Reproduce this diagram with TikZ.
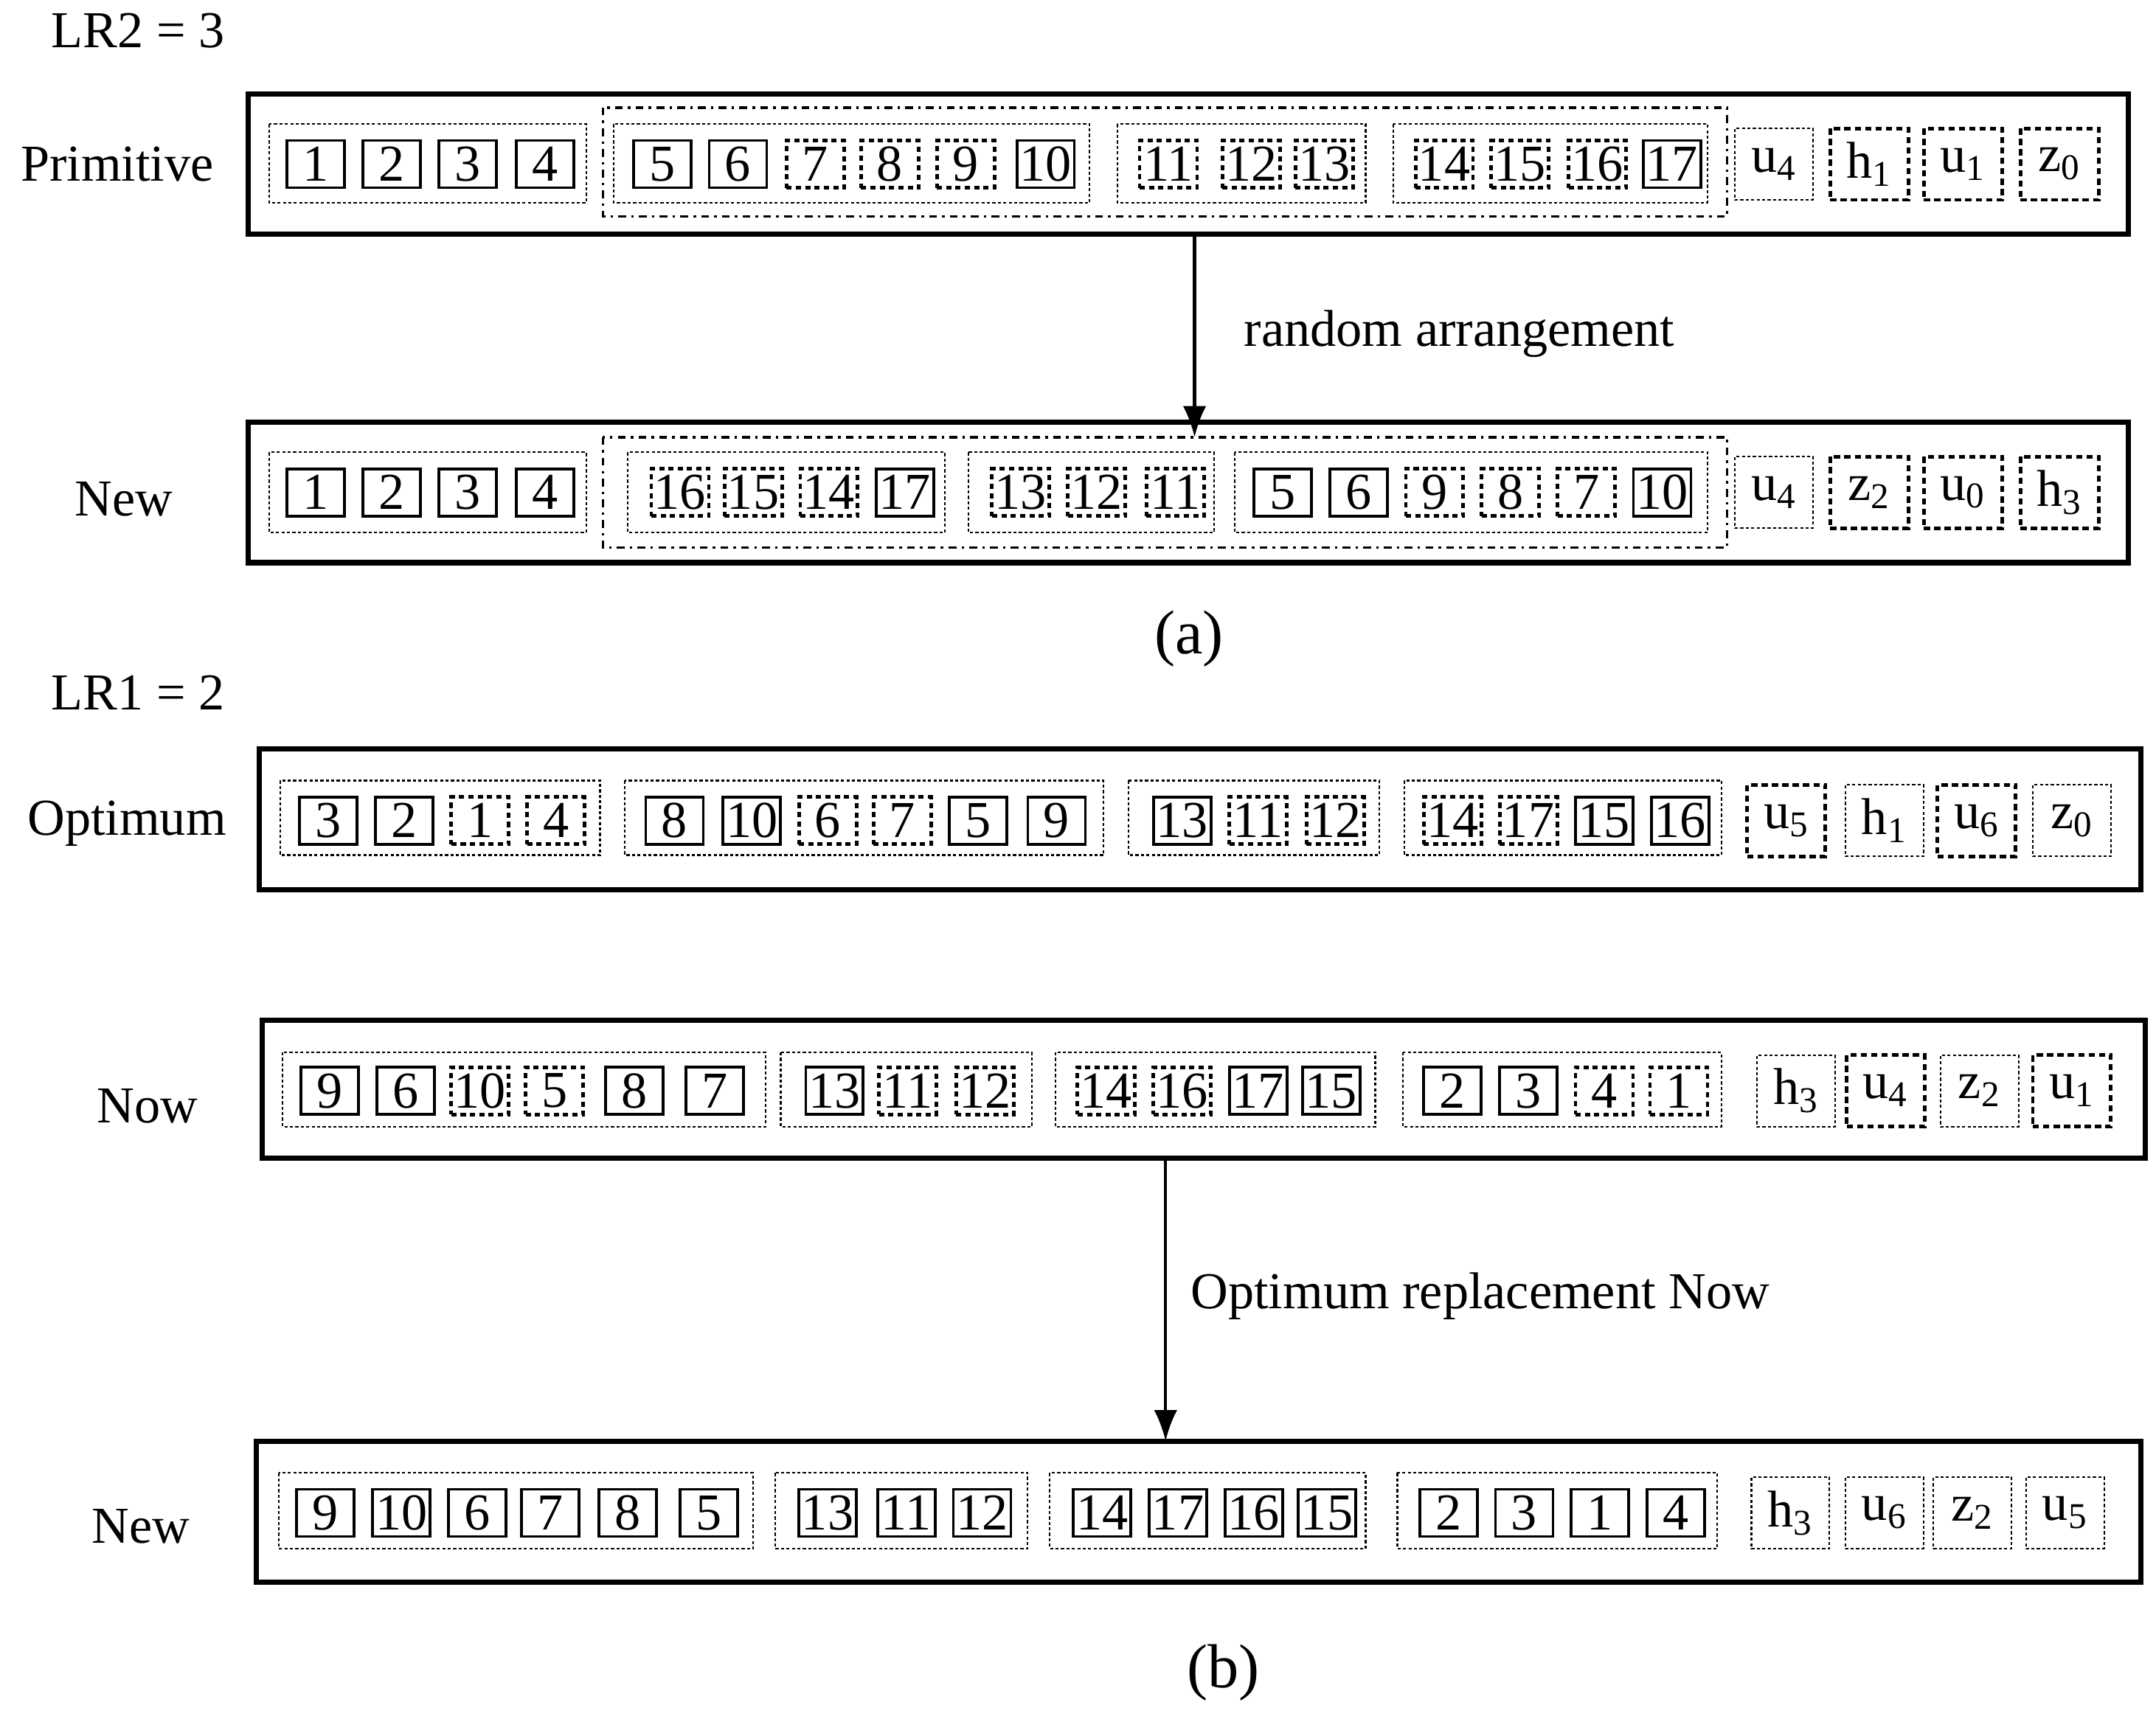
\documentclass[tikz,border=0pt]{standalone}
\usepackage{fontspec}
\setmainfont{Liberation Serif}
\usetikzlibrary{arrows.meta}

\tikzset{
  sb/.style   = {draw, line width=1.1pt, minimum width=0.78cm, minimum height=0.64cm, inner sep=0pt},
  db/.style   = {sb, line width=1.4pt, dash pattern=on 2pt off 1.6pt},
  ub/.style   = {draw, line width=0.6pt, dash pattern=on 1.2pt off 0.9pt, minimum width=1.06cm, minimum height=0.97cm, inner sep=0pt},
  udb/.style  = {ub, line width=1.4pt, dash pattern=on 2.4pt off 1.6pt},
  grp/.style  = {line width=0.6pt, dash pattern=on 1.2pt off 0.9pt},
  frame/.style= {line width=2pt},
  dd/.style   = {line width=1pt, dash dot},
  lbl/.style  = {font=\fontsize{20}{24}\selectfont}
}

\begin{document}
\begin{tikzpicture}[x=0.0187cm, y=-0.0187cm, font=\fontsize{20}{24}\selectfont]
  \useasboundingbox (0,0) rectangle (1563,1246);

  % ------------------------------------------------------------------------
  % (a) Primitive
  \node[lbl] (lr2) at (100,22) {LR2 = 3};
  \node[lbl] (prim) at (85,119) {Primitive};
  \draw[frame] (180,68) rectangle (1543,170);
  \coordinate (primB) at (866,170);
  \draw[dd] (437,78) rectangle (1252,157);
  \draw[grp] (195,90) rectangle (425,147);
  \draw[grp] (445,90) rectangle (790,147);
  \draw[grp] (810,90) rectangle (990,147);
  \draw[grp] (1010,90) rectangle (1238,147);
  \foreach \x/\t/\s in {229/1/sb, 284/2/sb, 339/3/sb, 395/4/sb,
      480/5/sb, 535/6/sb, 591/7/db, 645/8/db, 700/9/db, 758/10/sb,
      847/11/db, 907/12/db, 960/13/db,
      1047/14/db, 1102/15/db, 1158/16/db, 1212/17/sb}
    \node[\s] (p\t) at (\x,119) {\t};
  \node[ub]  (pu4) at (1286,119) {u\textsubscript{4}};
  \node[udb] (ph1) at (1355,119) {h\textsubscript{1}};
  \node[udb] (pu1) at (1423,119) {u\textsubscript{1}};
  \node[udb] (pz0) at (1493,119) {z\textsubscript{0}};

  % ------------------------------------------------------------------------
  % (a) New
  \node[lbl] (newa) at (90,362) {New};
  \draw[frame] (180,306) rectangle (1543,408);
  \coordinate (newaT) at (866,317);
  \draw[dd] (437,317) rectangle (1252,397);
  \draw[grp] (195,328) rectangle (425,386);
  \draw[grp] (455,328) rectangle (685,386);
  \draw[grp] (702,328) rectangle (880,386);
  \draw[grp] (895,328) rectangle (1238,386);
  \foreach \x/\t/\s in {229/1/sb, 284/2/sb, 339/3/sb, 395/4/sb,
      493/16/db, 546/15/db, 601/14/db, 656/17/sb,
      740/13/db, 795/12/db, 852/11/db,
      930/5/sb, 985/6/sb, 1040/9/db, 1095/8/db, 1150/7/db, 1205/10/sb}
    \node[\s] (n\t) at (\x,357) {\t};
  \node[ub]  (nu4) at (1286,357) {u\textsubscript{4}};
  \node[udb] (nz2) at (1355,357) {z\textsubscript{2}};
  \node[udb] (nu0) at (1423,357) {u\textsubscript{0}};
  \node[udb] (nh3) at (1493,357) {h\textsubscript{3}};

  \draw[-{Latex[length=12pt,width=9pt]}, line width=1.2pt] (primB) -- (newaT);
  \node[lbl] (rnd) at (1058,242) {random arrangement};
  \node[font=\fontsize{24}{28}\selectfont] (capa) at (862,463) {(a)};

  % ------------------------------------------------------------------------
  % (b) Optimum
  \node[lbl] (lr1) at (100,502) {LR1 = 2};
  \node[lbl] (opt) at (92,597) {Optimum};
  \draw[frame] (188,543) rectangle (1552,645);
  \draw[grp] (203,566) rectangle (435,620);
  \draw[grp] (453,566) rectangle (800,620);
  \draw[grp] (818,566) rectangle (1000,620);
  \draw[grp] (1018,566) rectangle (1248,620);
  \foreach \x/\t/\s in {238/3/sb, 293/2/sb, 348/1/db, 403/4/db,
      489/8/sb, 545/10/sb, 600/6/db, 654/7/db, 709/5/sb, 766/9/sb,
      857/13/sb, 912/11/db, 968/12/db,
      1053/14/db, 1108/17/db, 1163/15/sb, 1218/16/sb}
    \node[\s] (o\t) at (\x,595) {\t};
  \node[udb] (ou5) at (1295,595) {u\textsubscript{5}};
  \node[ub]  (oh1) at (1366,595) {h\textsubscript{1}};
  \node[udb] (ou6) at (1433,595) {u\textsubscript{6}};
  \node[ub]  (oz0) at (1502,595) {z\textsubscript{0}};

  % ------------------------------------------------------------------------
  % (b) Now
  \node[lbl] (now) at (107,802) {Now};
  \draw[frame] (190,740) rectangle (1555,840);
  \coordinate (nowB) at (845,840);
  \draw[grp] (205,763) rectangle (555,817);
  \draw[grp] (566,763) rectangle (748,817);
  \draw[grp] (765,763) rectangle (997,817);
  \draw[grp] (1017,763) rectangle (1248,817);
  \foreach \x/\t/\s in {239/9/sb, 294/6/sb, 348/10/db, 402/5/db, 460/8/sb, 518/7/sb,
      605/13/sb, 658/11/db, 714/12/db,
      802/14/db, 857/16/db, 912/17/sb, 965/15/sb,
      1053/2/sb, 1108/3/sb, 1163/4/db, 1217/1/db}
    \node[\s] (w\t) at (\x,791) {\t};
  \node[ub]  (wh3) at (1302,791) {h\textsubscript{3}};
  \node[udb] (wu4) at (1367,791) {u\textsubscript{4}};
  \node[ub]  (wz2) at (1435,791) {z\textsubscript{2}};
  \node[udb] (wu1) at (1502,791) {u\textsubscript{1}};

  % ------------------------------------------------------------------------
  % (b) New
  \node[lbl] (newb) at (102,1107) {New};
  \draw[frame] (186,1045) rectangle (1552,1147);
  \coordinate (newbT) at (845,1045);
  \draw[grp] (202,1068) rectangle (546,1123);
  \draw[grp] (562,1068) rectangle (745,1123);
  \draw[grp] (761,1068) rectangle (990,1123);
  \draw[grp] (1013,1068) rectangle (1245,1123);
  \foreach \x/\t in {236/9, 291/10, 346/6, 399/7, 455/8, 514/5,
      600/13, 657/11, 712/12, 799/14, 854/17, 909/16, 962/15,
      1050/2, 1105/3, 1160/1, 1215/4}
    \node[sb] (m\t) at (\x,1097) {\t};
  \node[ub] (mh3) at (1298,1097) {h\textsubscript{3}};
  \node[ub] (mu6) at (1366,1097) {u\textsubscript{6}};
  \node[ub] (mz2) at (1430,1097) {z\textsubscript{2}};
  \node[ub] (mu5) at (1497,1097) {u\textsubscript{5}};

  \draw[-{Latex[length=12pt,width=9pt]}, line width=1.2pt] (nowB) -- (newbT);
  \node[lbl] (repl) at (1073,940) {Optimum replacement Now};
  \node[font=\fontsize{24}{28}\selectfont] (capb) at (887,1213) {(b)};
\end{tikzpicture}
\end{document}
